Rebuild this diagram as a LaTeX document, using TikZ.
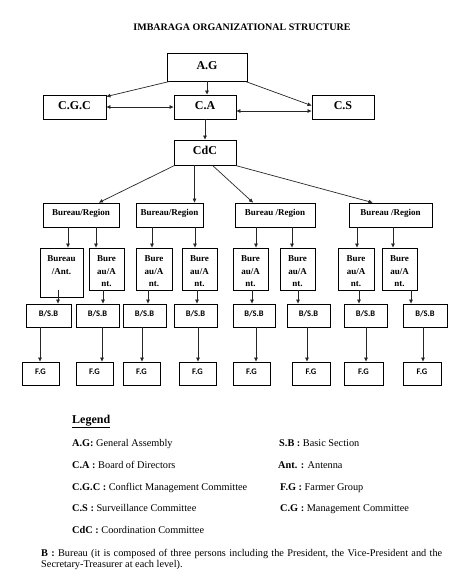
\documentclass[tikz,border=0pt]{standalone}
\usepackage{fontspec}
\setmainfont{Liberation Serif}
\newfontfamily\calibri{Carlito}
\usetikzlibrary{arrows.meta}

\begin{document}
\begin{tikzpicture}[x=1pt,y=-1pt,
	>={Triangle[length=4pt,width=3.5pt]},
	box/.style={draw, line width=0.9pt, inner sep=0pt},
	big/.style={box, minimum height=24pt, font=\fontsize{12}{14}\selectfont\bfseries, text height=8pt, text depth=4pt},
	region/.style={box, minimum height=24pt, font=\fontsize{9}{11}\selectfont\bfseries, text height=6.5pt, text depth=5.5pt},
	ant/.style={box, minimum height=42pt},
	lab/.style={anchor=north, inner sep=0pt, yshift=-8pt, align=center, font=\fontsize{9}{12.4}\selectfont\bfseries},
	small/.style={box, minimum height=23pt, font=\calibri\fontsize{8.5}{10}\selectfont\bfseries, text height=5.5pt, text depth=4pt},
	leg/.style={anchor=base west, inner sep=0pt, font=\fontsize{10.3}{12}\selectfont},
	arr/.style={->, line width=0.7pt, color=black!85}]
\useasboundingbox (0,0) rectangle (475,581);

\node[anchor=base, font=\fontsize{10}{12}\selectfont\bfseries] (title) at (242,30) {IMBARAGA ORGANIZATIONAL STRUCTURE};

% top levels
\node[big, minimum width=80pt, minimum height=28pt] (ag) at (207,67) {A.G};
\node[big, minimum width=63pt] (cgc) at (74.5,107) {C.G.C};
\node[big, minimum width=62pt] (ca) at (205,107) {C.A};
\node[big, minimum width=62pt] (cs) at (343,107) {C.S};
\node[big, minimum width=62pt, minimum height=25pt] (cdc) at (205,152.5) {CdC};

% regions
\node[region, minimum width=76pt] (br1) at (81,215) {Bureau/Region};
\node[region, minimum width=67pt] (br2) at (169.5,215) {Bureau/Region};
\node[region, minimum width=80pt] (br3) at (275,215) {Bureau /Region};
\node[region, minimum width=83pt] (br4) at (390.5,215) {Bureau /Region};

% antennas
\node[ant, minimum width=43pt, minimum height=49pt, label={[lab]north:Bureau\\/Ant.}] (ba1) at (61.5,272.5) {};
\node[ant, minimum width=35pt, label={[lab]north:Bure\\au/A\\nt.}] (ba2) at (106.5,269) {};
\node[ant, minimum width=36pt, label={[lab]north:Bure\\au/A\\nt.}] (ba3) at (154,269) {};
\node[ant, minimum width=35pt, label={[lab]north:Bure\\au/A\\nt.}] (ba4) at (199.5,269) {};
\node[ant, minimum width=35pt, label={[lab]north:Bure\\au/A\\nt.}] (ba5) at (250.5,269) {};
\node[ant, minimum width=35pt, label={[lab]north:Bure\\au/A\\nt.}] (ba6) at (297.5,269) {};
\node[ant, minimum width=36pt, label={[lab]north:Bure\\au/A\\nt.}] (ba7) at (356,269) {};
\node[ant, minimum width=35pt, label={[lab]north:Bure\\au/A\\nt.}] (ba8) at (399.5,269) {};

% basic sections
\node[small, minimum width=45pt] (bs1) at (48.5,315.5) {B/S.B};
\node[small, minimum width=43pt] (bs2) at (97.5,315.5) {B/S.B};
\node[small, minimum width=43pt] (bs3) at (144.5,315.5) {B/S.B};
\node[small, minimum width=43pt] (bs4) at (195.5,315.5) {B/S.B};
\node[small, minimum width=42pt] (bs5) at (254,315.5) {B/S.B};
\node[small, minimum width=43pt] (bs6) at (308.5,315.5) {B/S.B};
\node[small, minimum width=43pt] (bs7) at (365.5,315.5) {B/S.B};
\node[small, minimum width=44pt] (bs8) at (425,315.5) {B/S.B};

% farmer groups
\node[small, minimum width=37pt] (fg1) at (40.5,373.5) {F.G};
\node[small, minimum width=37pt] (fg2) at (94.5,373.5) {F.G};
\node[small, minimum width=37pt] (fg3) at (141.5,373.5) {F.G};
\node[small, minimum width=37pt] (fg4) at (197.5,373.5) {F.G};
\node[small, minimum width=37pt] (fg5) at (251.5,373.5) {F.G};
\node[small, minimum width=38pt] (fg6) at (311,373.5) {F.G};
\node[small, minimum width=39pt] (fg7) at (363.5,373.5) {F.G};
\node[small, minimum width=38pt] (fg8) at (422,373.5) {F.G};

\path[arr]
([xshift=3pt]ag.south west) edge ([yshift=-2pt]cgc.north east)
(ag.south) edge (ag.south |- ca.north)
([xshift=-2pt]ag.south east) edge ([yshift=-11pt]cs.north west)
(cgc.east) edge[<->] (cgc.east -| ca.west)
([yshift=-4pt]ca.east) edge[<->] ([yshift=-4pt]ca.east -| cs.west)
(ca.south) edge (cdc.north)
([xshift=1pt]cdc.south west) edge ([xshift=18pt]br1.north)
([xshift=21pt]cdc.south west) edge ([xshift=21pt]cdc.south west |- br2.north)
([xshift=39pt]cdc.south west) edge ([xshift=-22pt]br3.north)
([xshift=-1pt]cdc.south east) edge ([xshift=-18pt]br4.north)
%regions to antennas
(68,0 |- br1.south) edge (68,0 |- ba1.north)
(96,0 |- br1.south) edge (96,0 |- ba2.north)
(152,0 |- br2.south) edge (152,0 |- ba3.north)
(195,0 |- br2.south) edge (195,0 |- ba4.north)
(256,0 |- br3.south) edge (256,0 |- ba5.north)
(292,0 |- br3.south) edge (292,0 |- ba6.north)
(357,0 |- br4.south) edge (357,0 |- ba7.north)
(393,0 |- br4.south) edge (393,0 |- ba8.north)
%antennas to sections
(58,0 |- ba2.south) edge (58,0 |- bs1.north)
(103,0 |- ba2.south) edge (103,0 |- bs2.north)
(148,0 |- ba3.south) edge (148,0 |- bs3.north)
(197,0 |- ba4.south) edge (197,0 |- bs4.north)
(252,0 |- ba5.south) edge (252,0 |- bs5.north)
(298,0 |- ba6.south) edge (298,0 |- bs6.north)
(359,0 |- ba7.south) edge (359,0 |- bs7.north)
(411,0 |- ba8.south) edge (411,0 |- bs8.north)
%sections to groups
(40,0 |- bs1.south) edge (40,0 |- fg1.north)
(102,0 |- bs2.south) edge (102,0 |- fg2.north)
(142,0 |- bs3.south) edge (142,0 |- fg3.north)
(198,0 |- bs4.south) edge (198,0 |- fg4.north)
(256,0 |- bs5.south) edge (256,0 |- fg5.north)
(307,0 |- bs6.south) edge (307,0 |- fg6.north)
(366,0 |- bs7.south) edge (366,0 |- fg7.north)
(423,0 |- bs8.south) edge (423,0 |- fg8.north)
;

% legend
\node[anchor=base west, inner sep=0pt, font=\fontsize{12}{14}\selectfont\bfseries] (legend) at (72,423) {\underline{Legend}};
\node[leg] (lag) at (72,446) {\textbf{A.G:} General Assembly};
\node[leg] (lsb) at (279,446) {\textbf{S.B :} Basic Section};
\node[leg] (lca) at (72,468) {\textbf{C.A :} Board of Directors};
\node[leg] (lant) at (278,468) {\textbf{Ant. :} Antenna};
\node[leg] (lcgc) at (72,490) {\textbf{C.G.C :} Conflict Management Committee};
\node[leg] (lfg) at (280,490) {\textbf{F.G :} Farmer Group};
\node[leg] (lcs) at (72,511) {\textbf{C.S :} Surveillance Committee};
\node[leg] (lcg) at (280,511) {\textbf{C.G :} Management Committee};
\node[leg] (lcdc) at (72,533) {\textbf{CdC :} Coordination Committee};
\node[anchor=north west, inner sep=0pt, text width=401pt, align=justify, font=\fontsize{10.3}{11.3}\selectfont] (note) at (41,549)
	{\textbf{B :} Bureau (it is composed of three persons including the President, the Vice-President and the\linebreak Secretary-Treasurer at each level).};
\end{tikzpicture}
\end{document}
